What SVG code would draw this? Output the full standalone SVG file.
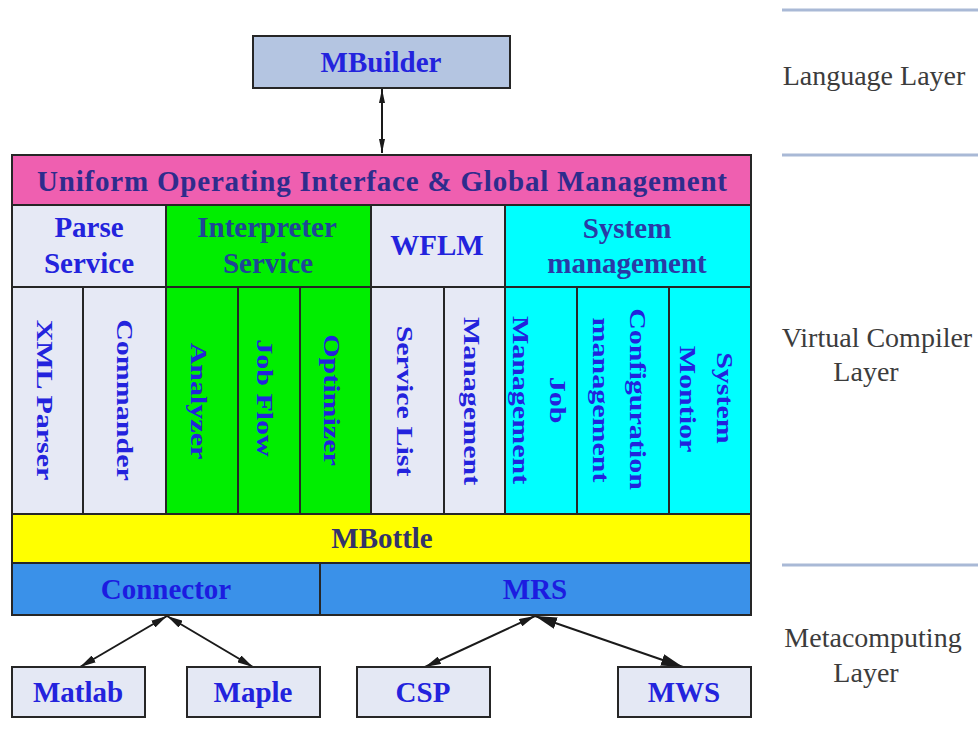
<svg xmlns="http://www.w3.org/2000/svg" width="978" height="735" viewBox="0 0 978 735">
  <style>
    .box { stroke: #262626; stroke-width: 2; }
    .lbl { font-family: "Liberation Serif", "Times New Roman", serif; font-weight: bold; font-size: 29px; text-anchor: middle; fill: #2323dd; }
    .vt { font-family: "Liberation Serif", "Times New Roman", serif; font-weight: bold; font-size: 30px; text-anchor: middle; fill: #2323dd; }
    .layer { font-family: "Liberation Serif", "Times New Roman", serif; font-size: 28px; text-anchor: middle; fill: #3c3c3c; }
    .sep { stroke: #a9b9d6; stroke-width: 3; }
    .link { stroke: #1a1a1a; stroke-width: 2; fill: none; }
  </style>
  <defs>
    <marker id="headSmall" viewBox="0 0 16 8" refX="16" refY="4" markerWidth="16" markerHeight="8" markerUnits="userSpaceOnUse" orient="auto-start-reverse">
      <path d="M0,0 L16,4 L0,8 Z" fill="#1a1a1a"/>
    </marker>
    <marker id="headThin" viewBox="0 0 14 6" refX="14" refY="3" markerWidth="14" markerHeight="6" markerUnits="userSpaceOnUse" orient="auto-start-reverse">
      <path d="M0,0 L14,3 L0,6 Z" fill="#1a1a1a"/>
    </marker>
    <marker id="headBig" viewBox="0 0 22 12" refX="22" refY="6" markerWidth="22" markerHeight="12" markerUnits="userSpaceOnUse" orient="auto-start-reverse">
      <path d="M0,0 L22,6 L0,12 Z" fill="#1a1a1a"/>
    </marker>
  </defs>

  <rect width="978" height="735" fill="#ffffff"/>

  <!-- layer separators and captions -->
  <g id="layers">
    <line class="sep" x1="782" y1="10" x2="978" y2="10"/>
    <line class="sep" x1="782" y1="155" x2="978" y2="155"/>
    <line class="sep" x1="782" y1="565" x2="978" y2="565"/>
    <text class="layer" x="874" y="85">Language Layer</text>
    <text class="layer" x="877" y="347">Virtual Compiler</text>
    <text class="layer" x="866" y="381">Layer</text>
    <text class="layer" x="873" y="647">Metacomputing</text>
    <text class="layer" x="866" y="682">Layer</text>
  </g>

  <!-- connectors -->
  <g id="connectors">
    <line class="link" x1="382" y1="89" x2="382" y2="153" marker-start="url(#headThin)" marker-end="url(#headThin)"/>
    <line class="link" x1="167" y1="616" x2="80" y2="667" marker-start="url(#headSmall)" marker-end="url(#headSmall)"/>
    <line class="link" x1="167" y1="616" x2="253" y2="667" marker-start="url(#headSmall)" marker-end="url(#headSmall)"/>
    <line class="link" x1="535" y1="616" x2="425" y2="667" marker-start="url(#headSmall)" marker-end="url(#headSmall)"/>
    <line class="link" x1="535" y1="616" x2="683" y2="667" marker-start="url(#headBig)" marker-end="url(#headBig)"/>
  </g>

  <g id="mbuilder">
    <rect class="box" x="253" y="36" width="257" height="52" fill="#b4c5e1"/>
    <text class="lbl" x="381" y="72" fill="#2a2ad6">MBuilder</text>
  </g>

  <g id="uniform-interface">
    <rect class="box" x="12" y="155" width="739" height="50" fill="#ef5fb0"/>
    <text class="lbl" x="382" y="191" textLength="690" lengthAdjust="spacing" style="fill:#2e2c8c">Uniform Operating Interface &amp; Global Management</text>
  </g>

  <g id="parse-service">
    <rect class="box" x="12" y="205" width="154" height="82" fill="#e6e9f5"/>
    <text class="lbl" x="89" y="237">Parse</text>
    <text class="lbl" x="89" y="273">Service</text>
  </g>

  <g id="interpreter-service">
    <rect class="box" x="166" y="205" width="205" height="82" fill="#00ee00"/>
    <text class="lbl" x="267" y="237" style="fill:#1f4596">Interpreter</text>
    <text class="lbl" x="268" y="273" style="fill:#1f4596">Service</text>
  </g>

  <g id="wflm">
    <rect class="box" x="371" y="205" width="134" height="82" fill="#e6e9f5"/>
    <text class="lbl" x="437" y="255">WFLM</text>
  </g>

  <g id="system-management">
    <rect class="box" x="505" y="205" width="246" height="82" fill="#00ffff"/>
    <text class="lbl" x="627" y="238" style="fill:#2a3aa6">System</text>
    <text class="lbl" x="627" y="273" style="fill:#2a3aa6">management</text>
  </g>

  <g id="xml-parser">
    <rect class="box" x="12" y="287" width="71" height="227" fill="#e6e9f5"/>
    <text class="vt" transform="translate(45,400) rotate(90) scale(1,0.8)" y="10">XML Parser</text>
  </g>
  <g id="commander">
    <rect class="box" x="83" y="287" width="83" height="227" fill="#e6e9f5"/>
    <text class="vt" transform="translate(125,400) rotate(90) scale(1,0.8)" y="10">Commander</text>
  </g>
  <g id="analyzer">
    <rect class="box" x="166" y="287" width="72" height="227" fill="#00ee00"/>
    <text class="vt" transform="translate(199,401) rotate(90) scale(1,0.8)" y="10">Analyzer</text>
  </g>
  <g id="job-flow">
    <rect class="box" x="238" y="287" width="62" height="227" fill="#00ee00"/>
    <text class="vt" transform="translate(265,398) rotate(90) scale(1,0.8)" y="10">Job Flow</text>
  </g>
  <g id="optimizer">
    <rect class="box" x="300" y="287" width="71" height="227" fill="#00ee00"/>
    <text class="vt" transform="translate(332,400) rotate(90) scale(1,0.8)" y="10">Optimizer</text>
  </g>
  <g id="service-list">
    <rect class="box" x="371" y="287" width="73" height="227" fill="#e6e9f5"/>
    <text class="vt" transform="translate(405,401) rotate(90) scale(1,0.8)" y="10">Service List</text>
  </g>
  <g id="wflm-management">
    <rect class="box" x="444" y="287" width="61" height="227" fill="#e6e9f5"/>
    <text class="vt" transform="translate(472,401) rotate(90) scale(1,0.8)" y="10">Management</text>
  </g>
  <g id="job-management">
    <rect class="box" x="505" y="287" width="72" height="227" fill="#00ffff"/>
    <text class="vt" transform="translate(558,400) rotate(90) scale(1,0.8)" y="10">Job</text>
    <text class="vt" transform="translate(521,400) rotate(90) scale(1,0.8)" y="10">Management</text>
  </g>
  <g id="configuration-management">
    <rect class="box" x="577" y="287" width="92" height="227" fill="#00ffff"/>
    <text class="vt" transform="translate(638,399) rotate(90) scale(1,0.8)" y="10">Configuration</text>
    <text class="vt" transform="translate(601,400) rotate(90) scale(1,0.8)" y="10">management</text>
  </g>
  <g id="system-monitor">
    <rect class="box" x="669" y="287" width="82" height="227" fill="#00ffff"/>
    <text class="vt" transform="translate(725,398) rotate(90) scale(1,0.8)" y="10">System</text>
    <text class="vt" transform="translate(688,399) rotate(90) scale(1,0.8)" y="10">Montior</text>
  </g>

  <g id="mbottle">
    <rect class="box" x="12" y="514" width="739" height="49" fill="#ffff00"/>
    <text class="lbl" x="382" y="548" style="fill:#33336a">MBottle</text>
  </g>

  <g id="connector">
    <rect class="box" x="12" y="563" width="308" height="52" fill="#3a91e9"/>
    <text class="lbl" x="166" y="599" style="fill:#1c1ce0">Connector</text>
  </g>
  <g id="mrs">
    <rect class="box" x="320" y="563" width="431" height="52" fill="#3a91e9"/>
    <text class="lbl" x="535" y="599" style="fill:#1c1ce0">MRS</text>
  </g>

  <g id="matlab">
    <rect class="box" x="12" y="667" width="133" height="50" fill="#e4e8f4"/>
    <text class="lbl" x="78" y="702">Matlab</text>
  </g>
  <g id="maple">
    <rect class="box" x="187" y="667" width="133" height="50" fill="#e4e8f4"/>
    <text class="lbl" x="253" y="702">Maple</text>
  </g>
  <g id="csp">
    <rect class="box" x="357" y="667" width="133" height="50" fill="#e4e8f4"/>
    <text class="lbl" x="423" y="702">CSP</text>
  </g>
  <g id="mws">
    <rect class="box" x="618" y="667" width="133" height="50" fill="#e4e8f4"/>
    <text class="lbl" x="684" y="702">MWS</text>
  </g>
</svg>
